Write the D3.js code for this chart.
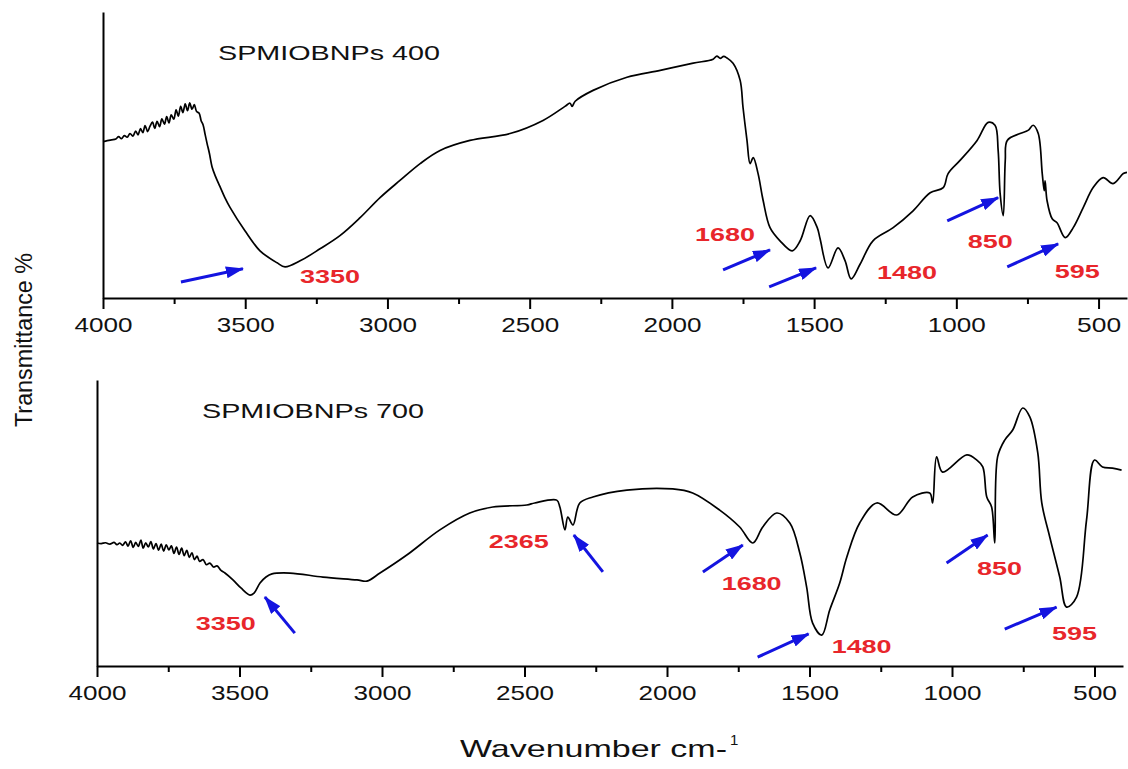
<!DOCTYPE html>
<html>
<head>
<meta charset="utf-8">
<script src="https://cdn.jsdelivr.net/npm/d3@7"></script>
<style>
  body { margin: 0; background: #fff; }
  svg { display: block; }
  text { font-family: Arial, "Liberation Sans", sans-serif; }
</style>
</head>
<body>
<svg id="chart" width="1128" height="769"></svg>
<script>
// FT-IR spectra, two panels (400 / 700)

const tickValues = [4000, 3500, 3000, 2500, 2000, 1500, 1000, 500];
const minorTicks = [3750, 3250, 2750, 2250, 1750, 1250, 750];

// top panel: wavenumber (cm-1) and transmittance (arb.)
const wave400 = [4000, 3985, 3970, 3955, 3945, 3935, 3925, 3915, 3905, 3895, 3885, 3877, 3868, 3860, 3852, 3843, 3835, 3826, 3818, 3810, 3801, 3793, 3784, 3776, 3768, 3760, 3751, 3743, 3735, 3727, 3719, 3711, 3703, 3695, 3687, 3679, 3671, 3662, 3655, 3648, 3641, 3634, 3626, 3617, 3605, 3589, 3572, 3553, 3501, 3448, 3388, 3360, 3307, 3237, 3167, 3096, 3026, 2956, 2885, 2815, 2710, 2569, 2453, 2376, 2358, 2351, 2340, 2277, 2158, 2041, 1925, 1855, 1842, 1830, 1818, 1806, 1785, 1760, 1750, 1736, 1725, 1714, 1697, 1679, 1655, 1620, 1577, 1549, 1514, 1489, 1479, 1451, 1416, 1391, 1370, 1338, 1293, 1222, 1152, 1092, 1046, 1029, 987, 927, 888, 864, 853, 846, 835, 828, 821, 776, 748, 730, 712, 698, 691, 688, 681, 663, 646, 617, 589, 554, 519, 484, 449, 413, 400];
const trans400 = [54.7, 55.0, 55.3, 55.6, 56.4, 55.7, 56.8, 56.2, 57.5, 56.6, 58.4, 57.0, 59.2, 57.8, 60.3, 58.2, 60.0, 61.5, 59.3, 61.8, 59.9, 62.6, 60.8, 63.4, 61.2, 64.0, 62.5, 65.8, 63.6, 67.0, 64.8, 67.9, 65.5, 68.2, 66.0, 67.6, 65.2, 64.6, 62.0, 60.5, 57.2, 54.0, 50.6, 46.0, 42.6, 39.0, 35.2, 31.6, 23.5, 16.5, 12.3, 10.9, 13.0, 17.2, 21.8, 28.1, 35.1, 41.1, 47.0, 51.6, 55.1, 57.5, 62.1, 67.0, 68.1, 67.0, 68.8, 72.6, 77.2, 79.6, 82.1, 83.5, 84.6, 83.8, 84.5, 83.9, 82.1, 76.1, 66.7, 55.1, 47.0, 49.1, 43.5, 34.0, 24.6, 20.0, 16.5, 20.0, 28.8, 24.6, 20.7, 10.5, 17.5, 13.0, 6.7, 11.9, 20.0, 24.6, 30.5, 36.8, 38.6, 43.5, 48.1, 55.1, 61.4, 60.4, 51.6, 36.5, 28.8, 48.1, 55.1, 57.5, 58.6, 60.4, 57.5, 43.5, 37.5, 41.0, 34.0, 27.7, 26.3, 21.1, 24.6, 31.6, 38.6, 42.1, 40.0, 43.5, 43.9];

// bottom panel
const wave700 = [4000, 3985, 3970, 3955, 3940, 3930, 3920, 3910, 3900, 3891, 3882, 3873, 3864, 3855, 3846, 3838, 3829, 3820, 3811, 3802, 3793, 3784, 3775, 3766, 3757, 3748, 3739, 3730, 3721, 3712, 3703, 3694, 3685, 3676, 3667, 3658, 3649, 3640, 3628, 3616, 3604, 3591, 3579, 3565, 3551, 3523, 3495, 3463, 3449, 3428, 3407, 3386, 3323, 3207, 3088, 3053, 3007, 2913, 2797, 2692, 2611, 2492, 2464, 2387, 2376, 2358, 2348, 2330, 2306, 2260, 2141, 1980, 1910, 1815, 1745, 1699, 1664, 1615, 1569, 1534, 1510, 1489, 1457, 1429, 1394, 1369, 1324, 1264, 1194, 1138, 1078, 1068, 1054, 1033, 948, 913, 892, 878, 861, 850, 840, 815, 787, 752, 727, 699, 685, 657, 622, 598, 563, 528, 500, 472, 437, 405];
const trans700 = [43.0, 42.8, 43.1, 42.6, 43.2, 42.4, 43.0, 42.2, 43.4, 41.9, 43.8, 41.5, 43.2, 41.8, 44.0, 41.2, 43.1, 41.6, 43.5, 40.9, 42.8, 40.5, 42.6, 40.2, 42.4, 40.6, 42.0, 39.4, 41.6, 39.0, 41.2, 38.6, 40.4, 38.0, 39.6, 37.2, 38.4, 36.6, 37.2, 35.4, 36.0, 34.6, 35.0, 33.4, 32.5, 30.1, 27.3, 24.8, 25.5, 29.0, 31.1, 32.2, 32.5, 31.1, 30.1, 29.7, 32.5, 38.8, 47.6, 53.5, 55.6, 56.3, 57.0, 58.0, 55.6, 47.6, 52.1, 49.3, 57.0, 59.1, 61.5, 61.9, 60.5, 54.5, 48.6, 43.0, 48.6, 53.5, 50.0, 39.5, 27.6, 15.0, 10.8, 19.6, 29.0, 38.1, 50.0, 57.0, 52.8, 59.1, 60.5, 57.0, 73.1, 67.8, 73.8, 72.0, 69.6, 59.1, 55.6, 43.0, 73.1, 79.0, 82.5, 90.2, 87.1, 74.5, 57.0, 45.1, 31.1, 20.6, 24.1, 51.0, 72.0, 69.6, 69.2, 68.5];

// peak labels: text, wavenumber, transmittance (baseline position)
const peakLabels400 = [
  ["3350", 3202, 5.3], ["1680", 1813, 20.0], ["1480", 1173, 6.7],
  ["850", 881, 17.5], ["595", 575, 7.0]
];
const peakLabels700 = [
  ["3350", 3548, 12.6], ["2365", 2520, 41.3], ["1680", 1703, 26.6],
  ["1480", 1317, 4.5], ["850", 833, 31.8], ["595", 570, 9.1]
];
// arrows: from (w, t) to (w, t)
const arrows400 = [
  [3726, 5.6, 3508, 10.2], [1820, 9.8, 1655, 16.8], [1658, 3.9, 1493, 10.5],
  [1032, 27.0, 853, 35.1], [821, 10.9, 642, 18.9]
];
const arrows700 = [
  [3306, 11.5, 3411, 24.1], [2225, 32.9, 2327, 45.8], [1874, 32.9, 1734, 42.3],
  [1682, 3.1, 1503, 11.2], [1019, 36.0, 875, 45.8], [815, 12.9, 633, 20.6]
];

const svg = d3.select("#chart");

svg.append("defs").append("marker")
    .attr("id", "head")
    .attr("markerUnits", "userSpaceOnUse")
    .attr("viewBox", "0 0 18 12")
    .attr("refX", 17).attr("refY", 6)
    .attr("markerWidth", 18).attr("markerHeight", 12)
    .attr("orient", "auto")
  .append("path")
    .attr("d", "M0,0 L18,6 L0,12 Z")
    .attr("fill", "#1414e0");

function drawPanel(cfg) {
    const x = d3.scaleLinear().domain([4000, 400]).range([cfg.left, cfg.right]);
    const y = d3.scaleLinear().domain([0, 100]).range([cfg.bottom, cfg.top]);
    const g = svg.append("g");

    // bottom axis with major + minor ticks
    const ax = g.append("g")
        .attr("transform", `translate(0,${cfg.bottom})`)
        .call(d3.axisBottom(x).tickValues(tickValues).tickFormat(d3.format("d"))
            .tickSize(11).tickSizeOuter(0).tickPadding(8));
    ax.select(".domain").attr("stroke-width", 2.2);
    ax.selectAll(".tick line").attr("stroke-width", 2);
    ax.selectAll(".tick text")
        .attr("font-size", 21)
        .attr("fill", "#111")
        .attr("textLength", d => d >= 1000 ? 58 : 44)
        .attr("lengthAdjust", "spacingAndGlyphs");
    g.append("g")
        .attr("transform", `translate(0,${cfg.bottom})`)
        .call(d3.axisBottom(x).tickValues(minorTicks).tickSize(6).tickSizeOuter(0).tickFormat(""))
        .call(a => a.select(".domain").remove())
        .selectAll(".tick line").attr("stroke-width", 2);

    // left axis, no ticks
    g.append("g")
        .attr("transform", `translate(${cfg.left},0)`)
        .call(d3.axisLeft(y).ticks(0).tickSizeOuter(0))
        .select(".domain").attr("stroke-width", 2);

    // spectrum
    const pts = cfg.wave.map((w, i) => [w, cfg.trans[i]]);
    g.append("path")
        .datum(pts)
        .attr("fill", "none")
        .attr("stroke", "#000")
        .attr("stroke-width", 1.7)
        .attr("stroke-linejoin", "round")
        .attr("d", d3.line()
            .x(d => x(d[0]))
            .y(d => y(d[1]))
            .curve(d3.curveCatmullRom.alpha(0.5)));

    // sample name
    g.append("text")
        .attr("x", cfg.nameX).attr("y", cfg.nameY)
        .attr("font-size", 21)
        .attr("fill", "#111")
        .attr("textLength", 222)
        .attr("lengthAdjust", "spacingAndGlyphs")
        .text(cfg.name);

    // arrows
    g.selectAll("line.arrow")
        .data(cfg.arrows)
        .enter().append("line")
        .attr("class", "arrow")
        .attr("x1", d => x(d[0])).attr("y1", d => y(d[1]))
        .attr("x2", d => x(d[2])).attr("y2", d => y(d[3]))
        .attr("stroke", "#1414e0")
        .attr("stroke-width", 3)
        .attr("marker-end", "url(#head)");

    // red peak labels
    g.selectAll("text.peak")
        .data(cfg.labels)
        .enter().append("text")
        .attr("class", "peak")
        .attr("x", d => x(d[1])).attr("y", d => y(d[2]))
        .attr("text-anchor", "middle")
        .attr("font-size", 19)
        .attr("font-weight", "bold")
        .attr("fill", "#e8262b")
        .attr("textLength", d => d[0].length * 15)
        .attr("lengthAdjust", "spacingAndGlyphs")
        .text(d => d[0]);
}

drawPanel({
    left: 103, right: 1127, top: 12, bottom: 298,
    wave: wave400, trans: trans400,
    name: "SPMIOBNPs 400", nameX: 218, nameY: 60,
    labels: peakLabels400, arrows: arrows400
});

drawPanel({
    left: 97, right: 1123, top: 380, bottom: 666,
    wave: wave700, trans: trans700,
    name: "SPMIOBNPs 700", nameX: 202, nameY: 418,
    labels: peakLabels700, arrows: arrows700
});

// axis titles
svg.append("text")
    .attr("transform", "translate(32,340) rotate(-90)")
    .attr("text-anchor", "middle")
    .attr("font-size", 23)
    .attr("fill", "#111")
    .attr("textLength", 174)
    .attr("lengthAdjust", "spacingAndGlyphs")
    .text("Transmittance %");

const xt = svg.append("text")
    .attr("x", 460).attr("y", 757)
    .attr("font-size", 24)
    .attr("fill", "#111");
xt.append("tspan")
    .attr("textLength", 267)
    .attr("lengthAdjust", "spacingAndGlyphs")
    .text("Wavenumber cm-");
xt.append("tspan")
    .attr("dx", 3).attr("dy", -12)
    .attr("font-size", 15)
    .text("1");
</script>
</body>
</html>
